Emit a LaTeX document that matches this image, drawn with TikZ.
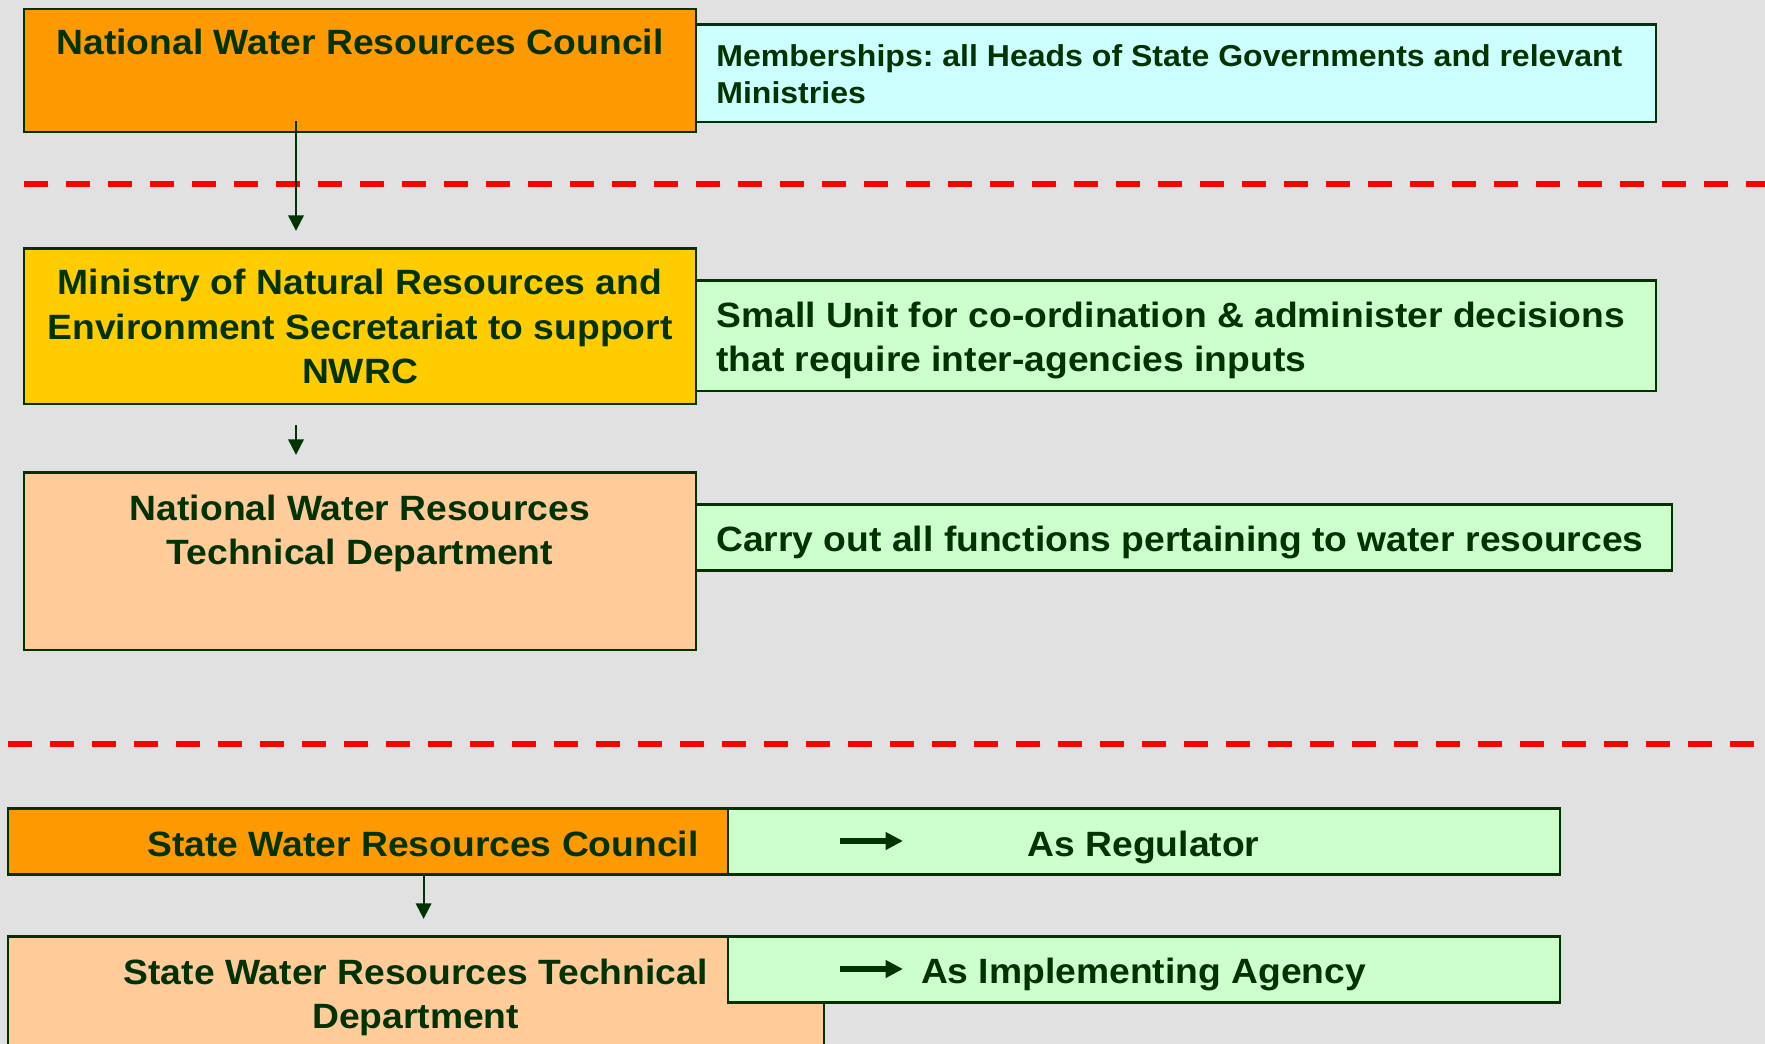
\documentclass[tikz,border=0pt]{standalone}
\usepackage{fontspec}
\setmainfont{Liberation Sans}[FakeStretch=1.06]
\usetikzlibrary{arrows.meta}
\frenchspacing

\definecolor{bg}{HTML}{E1E1E1}
\definecolor{ink}{HTML}{003300}
\definecolor{council}{HTML}{FF9900}
\definecolor{ministry}{HTML}{FFCC00}
\definecolor{techdept}{HTML}{FFCC99}
\definecolor{member}{HTML}{CCFFFF}
\definecolor{role}{HTML}{CCFFCC}
\definecolor{cut}{HTML}{FF0000}

\tikzset{
  box/.style={draw=ink, line width=1.3pt, rectangle, inner sep=0pt},
  txt/.style={text=ink, inner sep=0pt, font=\fontsize{20}{25.2}\selectfont\bfseries},
  smalltxt/.style={text=ink, inner sep=0pt, font=\fontsize{17.2}{21.2}\selectfont\bfseries},
  link/.style={draw=ink, line width=1.1pt, -{Triangle[length=0.31cm,width=0.31cm]}},
  fat/.style={draw=ink, line width=3.2pt, -{Triangle[length=0.35cm,width=0.34cm]}},
  cutline/.style={draw=cut, line width=3.1pt, dash pattern=on 0.48cm off 0.36cm}
}

\begin{document}
\begin{tikzpicture}[x=0.02cm, y=-0.02cm]
\fill[bg] (0,0) rectangle (1765,1044);
\useasboundingbox (0,0) rectangle (1765,1044);

%% national level
\node[box, fill=council, minimum width=13.44cm, minimum height=2.46cm] (NWRC) at (360,70.5) {};
\node[box, fill=member, minimum width=19.2cm, minimum height=1.95cm] (Member) at (1176,73.25) {};
\node[box, fill=ministry, minimum width=13.44cm, minimum height=3.11cm] (Ministry) at (360,326.25) {};
\node[box, fill=role, minimum width=19.2cm, minimum height=2.21cm] (Unit) at (1176,335.75) {};
\node[box, fill=techdept, minimum width=13.44cm, minimum height=3.55cm] (NWRTD) at (360,561.25) {};
\node[box, fill=role, minimum width=19.52cm, minimum height=1.32cm] (Carry) at (1184,537.5) {};

%% state level
\node[box, fill=council, minimum width=14.4cm, minimum height=1.32cm] (SWRC) at (368,841.5) {};
\node[box, fill=role, minimum width=16.64cm, minimum height=1.32cm] (Reg) at (1144,841.5) {};
\node[box, fill=techdept, minimum width=16.32cm, minimum height=2.46cm] (SWRTD) at (416,998) {};
\node[box, fill=role, minimum width=16.64cm, minimum height=1.32cm] (Impl) at (1144,969.5) {};

%% texts (multi-line ones sit on their last baseline)
\node[txt, anchor=base] (NWRCtext) at (360,55) {National Water Resources Council};
\node[smalltxt, anchor=base west, align=left] (Membertext) at (716,104)
  {Memberships: all Heads of State Governments and relevant\\Ministries};
\node[txt, anchor=base, align=center] (Ministrytext) at (360,383.3)
  {Ministry of Natural Resources and\\Environment Secretariat to support\\NWRC};
\node[txt, anchor=base west, align=left] (Unittext) at (716,371.7)
  {Small Unit for co-ordination \& administer decisions\\that require inter-agencies inputs};
\node[txt, anchor=base, align=center] (NWRTDtext) at (360,564.3)
  {National Water Resources\\Technical Department};
\node[txt, anchor=base west] (Carrytext) at (716,551.7) {Carry out all functions pertaining to water resources};
\node[txt, anchor=base] (SWRCtext) at (423,856.7) {State Water Resources Council};
\node[txt, anchor=base] (Regtext) at (1143.5,856.7) {As Regulator};
\node[txt, anchor=base, align=center] (SWRTDtext) at (415.6,1028.3)
  {State Water Resources Technical\\Department};
\node[txt, anchor=base] (Impltext) at (1143.5,983.3) {As Implementing Agency};

%% separators
\coordinate (cutAw) at (24,184);
\coordinate (cutAe) at (1765,184);
\coordinate (cutBw) at (8,744);
\coordinate (cutBe) at (1765,744);
\draw[cutline] (cutAw) -- (cutAe);
\draw[cutline] (cutBw) -- (cutBe);

%%% edges
\draw[link] ([shift={(-64,-12)}]NWRC.south) -- ([shift={(-64,-16.5)}]Ministry.north);
\draw[link] ([shift={(-64,20)}]Ministry.south) -- ([shift={(-64,-16.5)}]NWRTD.north);
\draw[link] ([shift={(55.6,-2.5)}]SWRC.south) -- ([shift={(7.6,-16.5)}]SWRTD.north);

\coordinate (regtail) at (840,841);
\coordinate (reghead) at (903,841);
\coordinate (impltail) at (840,969);
\coordinate (implhead) at (903,969);
\draw[fat] (regtail) -- (reghead);
\draw[fat] (impltail) -- (implhead);
\end{tikzpicture}
\end{document}
